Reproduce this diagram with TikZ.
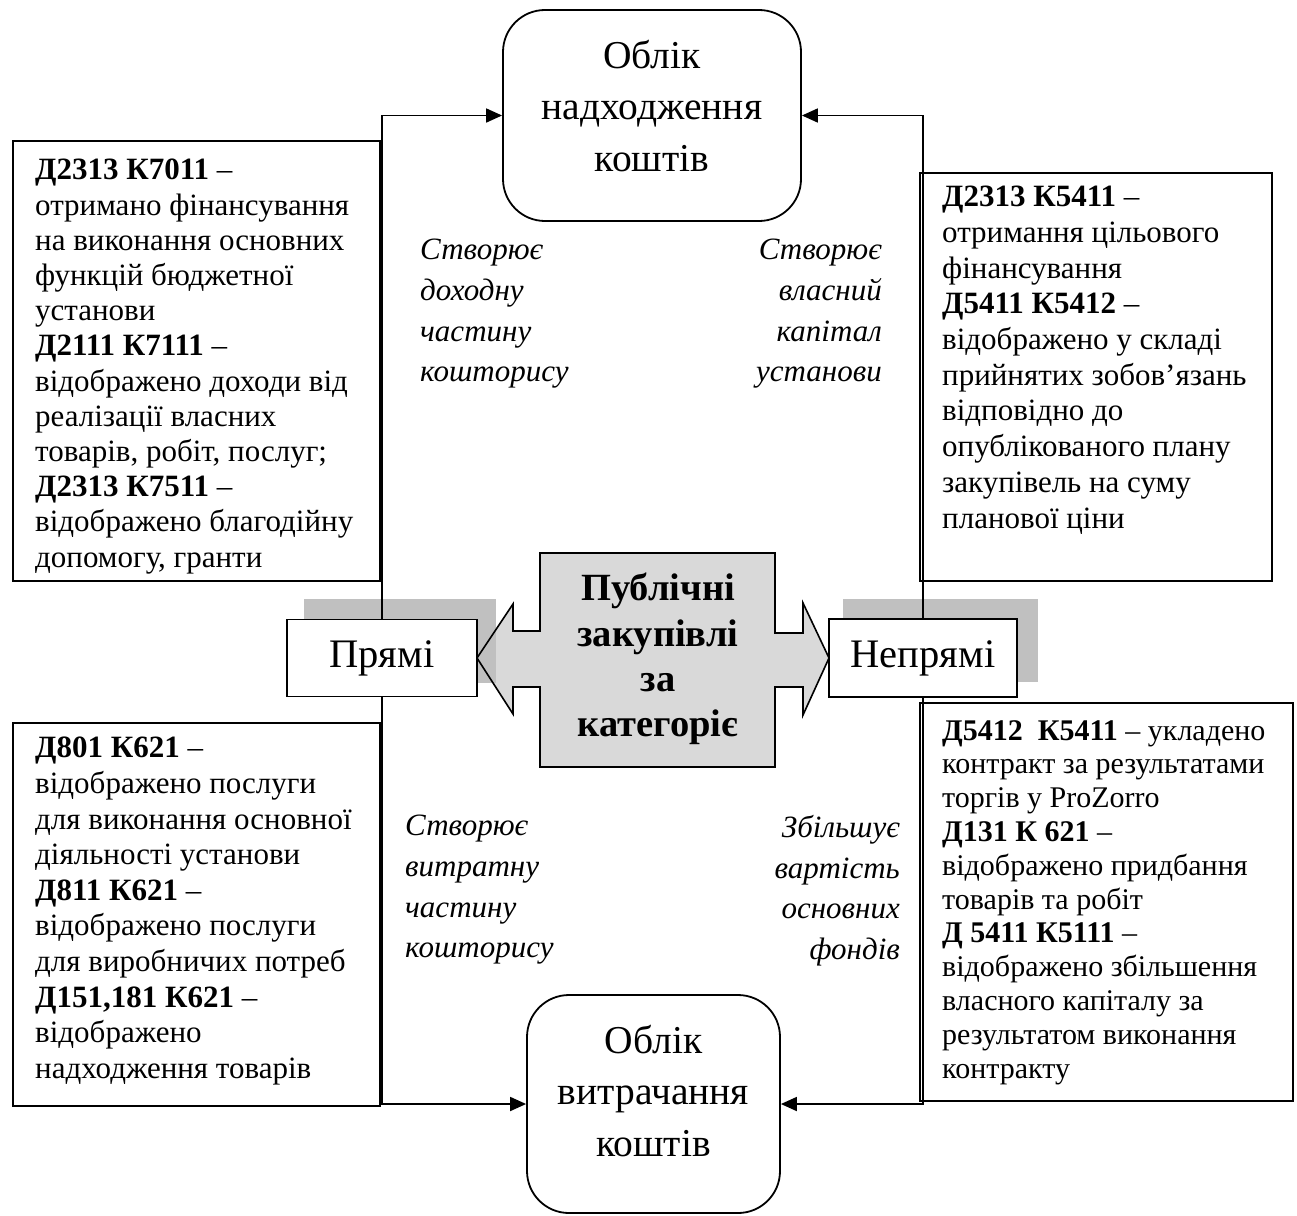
\documentclass[tikz,border=0pt]{standalone}
\usepackage{fontspec}
\setmainfont{Liberation Serif}
\usetikzlibrary{arrows.meta}
\definecolor{cbox}{RGB}{217,217,217}
\definecolor{shd}{RGB}{192,192,192}
\newcommand{\cdA}[1]{{\bfseries #1}}
\begin{document}
\begin{tikzpicture}[x=1pt,y=-1pt,
  box/.style={draw, line width=1.6pt, inner sep=0pt},
  rbox/.style={draw, line width=1.8pt, rounded corners=42pt, fill=white, inner sep=0pt},
  lab/.style={draw, line width=1.8pt, fill=white, inner sep=0pt, font=\fontsize{40.5}{44}\selectfont},
  txt/.style={inner sep=0pt, align=left, anchor=north west},
  itl/.style={inner sep=0pt, font=\fontsize{31}{40.7}\selectfont\itshape},
  big/.style={inner sep=0pt, align=center, anchor=north, font=\fontsize{39.5}{51.5}\selectfont},
  conn/.style={line width=1.8pt, -{Triangle[length=16pt,width=14pt]}},
]
\useasboundingbox (0,0) rectangle (1297,1215);

% top and bottom rounded boxes
\node[rbox, minimum width=298pt, minimum height=211pt] (top) at (652,115.5) {};
\node[big] (toptxt) at (652,40) {Облік\\надходження\\коштів};
\node[rbox, minimum width=253pt, minimum height=218pt] (bot) at (653.5,1104) {};
\node[big] (bottxt) at (653.5,1025) {Облік\\витрачання\\коштів};

% central double arrow
\fill[cbox] (540,553) -- (775,553) -- (775,633) -- (803,633) -- (803,603) -- (829,658)
  -- (803,715) -- (803,687) -- (775,687) -- (775,767) -- (540,767) -- (540,687)
  -- (513,687) -- (513,714) -- (477,658) -- (513,604) -- (513,631) -- (540,631) -- cycle;
% shadows
\fill[shd] (304,599) rectangle (496,683);
\fill[shd] (843,599) rectangle (1038,682);
\draw[line width=1.6pt, line join=miter] (540,553) -- (775,553) -- (775,633) -- (803,633) -- (803,603) -- (829,658)
  -- (803,715) -- (803,687) -- (775,687) -- (775,767) -- (540,767) -- (540,687)
  -- (513,687) -- (513,714) -- (477,658) -- (513,604) -- (513,631) -- (540,631) -- cycle;
\node[inner sep=0pt, align=center, anchor=north, font=\fontsize{38.5}{45.3}\selectfont\bfseries] (pub) at (658,573)
  {Публічні\\закупівлі\\за\\категоріє};

% side labels
\node[lab, minimum width=190pt, minimum height=77pt] (pr) at (382,658) {Прямі};
\node[lab, minimum width=188pt, minimum height=78pt] (nep) at (923,658) {Непрямі};

% connectors
\draw[conn] (pr.north) |- (top.west);
\draw[conn] (pr.south) |- (bot.west);
\draw[conn] (nep.north) |- (top.east);
\draw[conn] (nep.south) |- (bot.east);

% text boxes
\node[box, minimum width=367pt, minimum height=440pt, anchor=north west] (lt) at (12,140) {};
\node[box, minimum width=352pt, minimum height=408pt, anchor=north west] (rt) at (919,172) {};
\node[box, minimum width=367pt, minimum height=383pt, anchor=north west] (lb) at (12,722) {};
\node[box, minimum width=373pt, minimum height=398pt, anchor=north west] (rb) at (919,702) {};

\node[txt, font=\fontsize{31}{35.2}\selectfont] (ltt) at (35,159) {%
\cdA{Д2313 К7011} –\\
отримано фінансування\\
на виконання основних\\
функцій бюджетної\\
установи\\
\cdA{Д2111 К7111} –\\
відображено доходи від\\
реалізації власних\\
товарів, робіт, послуг;\\
\cdA{Д2313 К7511} –\\
відображено благодійну\\
допомогу, гранти};

\node[txt, font=\fontsize{31}{35.7}\selectfont] (rtt) at (942,186) {%
\cdA{Д2313 К5411} –\\
отримання цільового\\
фінансування\\
\cdA{Д5411 К5412} –\\
відображено у складі\\
прийнятих зобов’язань\\
відповідно до\\
опублікованого плану\\
закупівель на суму\\
планової ціни};

\node[txt, font=\fontsize{31}{35.6}\selectfont] (lbt) at (35,737) {%
\cdA{Д801 К621} –\\
відображено послуги\\
для виконання основної\\
діяльності установи\\
\cdA{Д811 К621} –\\
відображено послуги\\
для виробничих потреб\\
\cdA{Д151,181 К621} –\\
відображено\\
надходження товарів};

\node[txt, font=\fontsize{30}{33.8}\selectfont] (rbt) at (942,720) {%
\cdA{Д5412\ \ К5411} – укладено\\
контракт за результатами\\
торгів у ProZorro\\
\cdA{Д131 К 621} –\\
відображено придбання\\
товарів та робіт\\
\cdA{Д 5411 К5111} –\\
відображено збільшення\\
власного капіталу за\\
результатом виконання\\
контракту};

% italic labels
\node[itl, align=left, anchor=north west] (i1) at (420,239) {Створює\\доходну\\частину\\кошторису};
\node[itl, align=right, anchor=north east] (i2) at (882,239) {Створює\\власний\\капітал\\установи};
\node[itl, align=left, anchor=north west] (i3) at (405,815) {Створює\\витратну\\частину\\кошторису};
\node[itl, align=right, anchor=north east] (i4) at (900,815) {Збільшує\\вартість\\основних\\фондів};
\end{tikzpicture}
\end{document}
